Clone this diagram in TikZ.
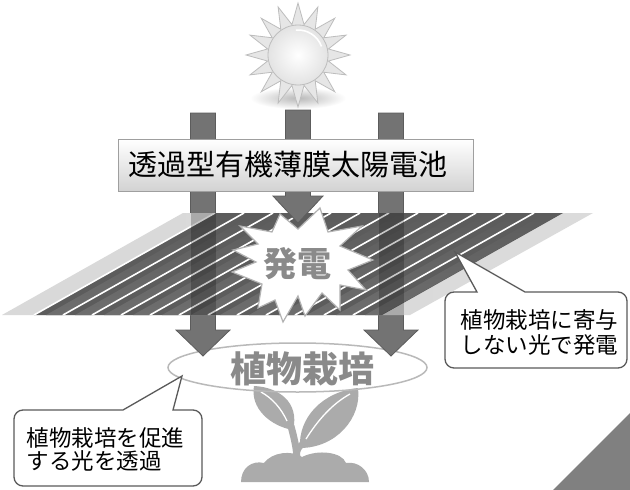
\documentclass[tikz,border=0pt]{standalone}
\usepackage{fontspec}
\setmainfont{Noto Sans CJK JP}
\usetikzlibrary{shapes.geometric}

\definecolor{arrowfill}{HTML}{737373}
\definecolor{arrowedge}{HTML}{5C5C5C}
\definecolor{stripedark}{HTML}{5C5C5C}
\definecolor{stripemid}{HTML}{6E6E6E}
\definecolor{softgray}{HTML}{8A8A8A}
\definecolor{plantgray}{HTML}{ABABAB}
\definecolor{calloutedge}{HTML}{5A5A5A}
\definecolor{cornergray}{HTML}{808080}
\definecolor{sunray}{HTML}{E6E6E6}
\definecolor{sunedge}{HTML}{BDBDBD}

\tikzset{
  bigarrow/.style={fill=arrowfill, draw=arrowedge, line width=0.8pt, line join=miter},
  callout/.style={fill=white, draw=calloutedge, line width=1.3pt},
  calloutlabel/.style={anchor=west, align=left, font=\fontsize{22.5}{25}\selectfont},
  titlebox/.style={anchor=west, draw=gray!75, line width=0.8pt, top color=white, bottom color=gray!35,
    inner xsep=10pt, inner ysep=0pt, minimum height=52pt, text width=335pt, align=left,
    font=\fontsize{29}{32}\selectfont},
  graylabel/.style={text=softgray, font=\bfseries\fontsize{34}{36}\selectfont},
}

\begin{document}
\begin{tikzpicture}[x=1pt, y=-1pt]
\useasboundingbox (0,0) rectangle (630,490);
\fill[white] (0,0) rectangle (630,490);

% --- sun with its soft shadow ---
\shade[inner color=gray!55, outer color=white] (298,98) ellipse (48 and 11);
\begin{scope}[shift={(298,55)}]
  \filldraw[fill=sunray, draw=sunedge, line width=0.8pt]
    (90:52) \foreach \k in {1,...,31} { -- ({90+\k*11.25}:{ifthenelse(mod(\k,2)==0,52,31)}) } -- cycle;
  \shade[inner color=white, outer color=gray!22, draw=sunedge, line width=0.8pt] (0,0) circle (30);
  \draw[white, line width=1.6pt] (-20:25) arc (-20:-95:25);
\end{scope}
\coordinate (sun) at (298,55);

% --- seedling and soil ---
\fill[plantgray] (241,482) .. controls (241,468) and (252,460) .. (264,463)
  .. controls (272,452) and (292,450) .. (302,457)
  .. controls (318,449) and (342,452) .. (346,463)
  .. controls (358,461) and (369,470) .. (369,482) -- cycle;
\draw[plantgray, line width=7pt] (297,462) .. controls (297,448) and (294,438) .. (291,426);
\draw[plantgray, line width=6pt] (297,452) .. controls (299,446) and (303,443) .. (308,440);
\fill[plantgray] (293,430) .. controls (270,426) and (250,408) .. (254,386)
  .. controls (278,387) and (300,402) .. (293,430) -- cycle;
\fill[plantgray] (300,448) .. controls (298,418) and (322,392) .. (358,388)
  .. controls (362,418) and (336,448) .. (300,448) -- cycle;
\draw[white, line width=1.3pt] (287,421) .. controls (281,408) and (272,398) .. (261,392);
\draw[white, line width=1.3pt] (306,439) .. controls (318,420) and (332,404) .. (350,394);

% --- crop ellipse ---
\node[ellipse, draw=gray!55, line width=1.5pt, minimum width=259pt, minimum height=49pt, inner sep=0pt]
  (crop) at (297.5,367.5) {};
\node[graylabel, font=\bfseries\fontsize{36}{38}\selectfont] (croplabel) at (302,369) {植物栽培};

% --- light passing through to the crops ---
\coordinate (leftend) at (203,356);
\coordinate (rightend) at (391,356);
\filldraw[bigarrow] (190.5,113) -- (215.5,113) -- (215.5,330) -- (230,330) -- (leftend)
  -- (176,330) -- (190.5,330) -- cycle;
\filldraw[bigarrow] (378.5,113) -- (403.5,113) -- (403.5,330) -- (418,330) -- (rightend)
  -- (364,330) -- (378.5,330) -- cycle;

% --- striped solar film ---
\begin{scope}
  \clip (183,213) -- (593,213) -- (410,315) -- (2,315) -- cycle;
  \shade[left color=gray!30, right color=gray!28] (0,205) rectangle (630,320);
  \foreach \i in {0,...,11} {
    \fill[stripedark] ({34+\i*29},315) -- ++(181,-102) -- ++(29,0) -- ++(-181,102) -- cycle;
    \shade[left color=stripedark, right color=stripemid, shading angle=0]
      ({34+\i*29+12},315) -- ++(181,-102) -- ++(16,0) -- ++(-181,102) -- cycle;
    \draw[white, line width=1.6pt] ({34+\i*29},315) -- ++(181,-102);
  }
  \fill[black, opacity=0.22] (190.5,205) rectangle (215.5,320);
  \fill[black, opacity=0.22] (378.5,205) rectangle (403.5,320);
\end{scope}
\coordinate (film) at (455,252);

% --- power generation burst ---
\filldraw[fill=white, draw=gray!60, line width=1.2pt]
  (320,208) -- (328,232) -- (362,226) -- (340,246) -- (373,260) -- (348,270)
  -- (366,290) -- (340,285) -- (340,310) -- (322,293) -- (305,316) -- (298,296)
  -- (283,322) -- (275,300) -- (258,308) -- (262,284) -- (232,272) -- (256,262)
  -- (233,250) -- (258,244) -- (240,226) -- (272,232) -- (280,214) -- (298,229) -- cycle;
\node[graylabel] (power) at (297,264) {発電};

% --- light absorbed by the film ---
\coordinate (midend) at (298,223);
\filldraw[bigarrow] (285.5,110) -- (310.5,110) -- (310.5,196) -- (323,196) -- (midend)
  -- (273,196) -- (285.5,196) -- cycle;

% --- title ---
\node[titlebox] (title) at (118,165) {透過型有機薄膜太陽電池};

% --- callouts ---
\draw[callout] (455,252) -- (525,292) [rounded corners=9pt] -- (627,292) -- (627,368)
  -- (445,368) -- (445,292) [sharp corners] -- (477,292) -- cycle;
\node[calloutlabel] (usenote) at (457,332) {植物栽培に寄与\\しない光で発電};

\draw[callout] (182,376) -- (173,410) [rounded corners=9pt] -- (202,410) -- (202,486)
  -- (14,486) -- (14,410) [sharp corners] -- (123,410) -- cycle;
\node[calloutlabel, font=\fontsize{22.5}{23}\selectfont] (passnote) at (23,449) {植物栽培を促進\\する光を透過};

% --- corner mark ---
\fill[cornergray] (553,490) -- (630,413) -- (630,490) -- cycle;
\end{tikzpicture}
\end{document}
